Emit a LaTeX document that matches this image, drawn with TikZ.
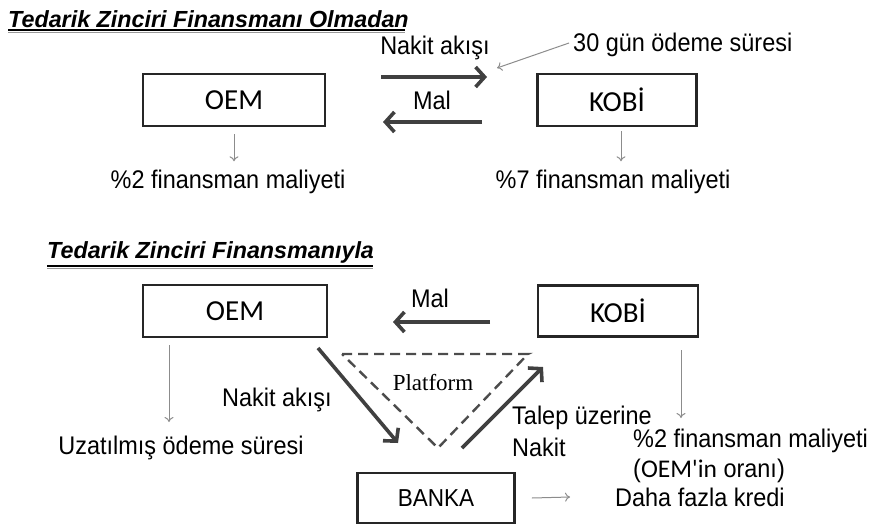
\documentclass[tikz,border=0pt]{standalone}
\usepackage{fontspec}
\setmainfont{Liberation Sans}[FakeStretch=0.92]
\newfontfamily\headfont{Liberation Sans}
\newfontfamily\boxfont{Carlito}
\newfontfamily\platfont{Liberation Serif}
\usetikzlibrary{arrows.meta}

\begin{document}
\begin{tikzpicture}[x=1pt, y=-1pt,
  every node/.style={font=\fontsize{25.5}{27}\selectfont, inner sep=0pt},
  box/.style={draw=black!85, line width=2.6pt, minimum height=52pt, font=\boxfont\fontsize{29}{30}\selectfont},
  flow/.style={draw=black!75, line width=3.6pt, -{Straight Barb[length=9pt,width=20pt]}},
  thin/.style={draw=black!45, line width=1pt, -{To[length=5pt,width=9pt]}},
  heading/.style={font=\headfont\bfseries\itshape\fontsize{23.3}{26}\selectfont, anchor=base west}]
	\useasboundingbox (0,0) rectangle (872,528);
	% ohne Finanzierung
	\node[heading] (title1) at (8,27) {Tedarik Zinciri Finansmanı Olmadan};
	\draw[line width=2pt] (title1.south west) ++(0,3) -- ++(397,0);
	\draw[black!40, line width=1pt] (title1.south west) ++(0,5.5) -- ++(397,0);
	\node[box, minimum width=182pt] (oem1) at (234,100) {OEM};
	\node[box, minimum width=159pt] (kobi1) at (617,100) {KOBİ};
	\node (cash1) at (435,48) {Nakit akışı};
	\node (goods1) at (432,100) {Mal};
	\node[anchor=west] (term1) at (573,45) {30 gün ödeme süresi};
	\node (cost1) at (228,182) {\%2 finansman maliyeti};
	\node (cost2) at (613,182) {\%7 finansman maliyeti};
	\draw[flow] (381,77) -- (487,77);
	\draw[flow] (482,122) -- (383,122);
	\draw[thin] (term1.west) ++(-4,-2) -- (497,68);
	\draw[thin] ([yshift=-7]oem1.south) -- ([yshift=-34]oem1.south);
	\draw[thin] ([xshift=4,yshift=-4]kobi1.south) -- ([xshift=4,yshift=-34]kobi1.south);
	% mit Finanzierung
	\node[heading] (title2) at (47,258) {Tedarik Zinciri Finansmanıyla};
	\draw[line width=2pt] (title2.south west) ++(0,3) -- ++(326,0);
	\draw[black!40, line width=1pt] (title2.south west) ++(0,5.5) -- ++(326,0);
	\node[box, minimum width=184pt] (oem2) at (235,311) {OEM};
	\node[box, minimum width=160pt, minimum height=51pt] (kobi2) at (618,311) {KOBİ};
	\node[box, minimum width=157pt, minimum height=50pt, font=\fontsize{24.5}{26}\selectfont] (bank) at (436,498) {BANKA};
	\node (goods2) at (430,298) {Mal};
	\node[font=\platfont\fontsize{23}{24}\selectfont] (platform) at (433,383) {Platform};
	\node (cash2) at (277,400) {Nakit akışı};
	\node[anchor=west, align=left, font=\fontsize{25.5}{32}\selectfont] (demand) at (512,431) {Talep üzerine\\Nakit};
	\node (extended) at (181,448) {Uzatılmış ödeme süresi};
	\node[anchor=west, align=left, font=\fontsize{25.5}{30}\selectfont] (cost3) at (633,456) {\%2 finansman maliyeti\\({\boxfont OEM'in} oranı)};
	\node[anchor=west] (credit) at (615,497) {Daha fazla kredi};
	\draw[black!70, line width=2.4pt, dash pattern=on 10pt off 6pt] (342,354) -- (528,354) -- (438,448) -- cycle;
	\draw[flow] (490,322) -- (393,322);
	\draw[flow] (318,348) -- (398,443);
	\draw[flow] (462,448) -- (543,367);
	\draw[thin] (169,345) -- (169,422);
	\draw[thin] (681,350) -- (681,418);
	\draw[thin] ([xshift=16]bank.east) -- ([xshift=-45]credit.west);
\end{tikzpicture}
\end{document}
